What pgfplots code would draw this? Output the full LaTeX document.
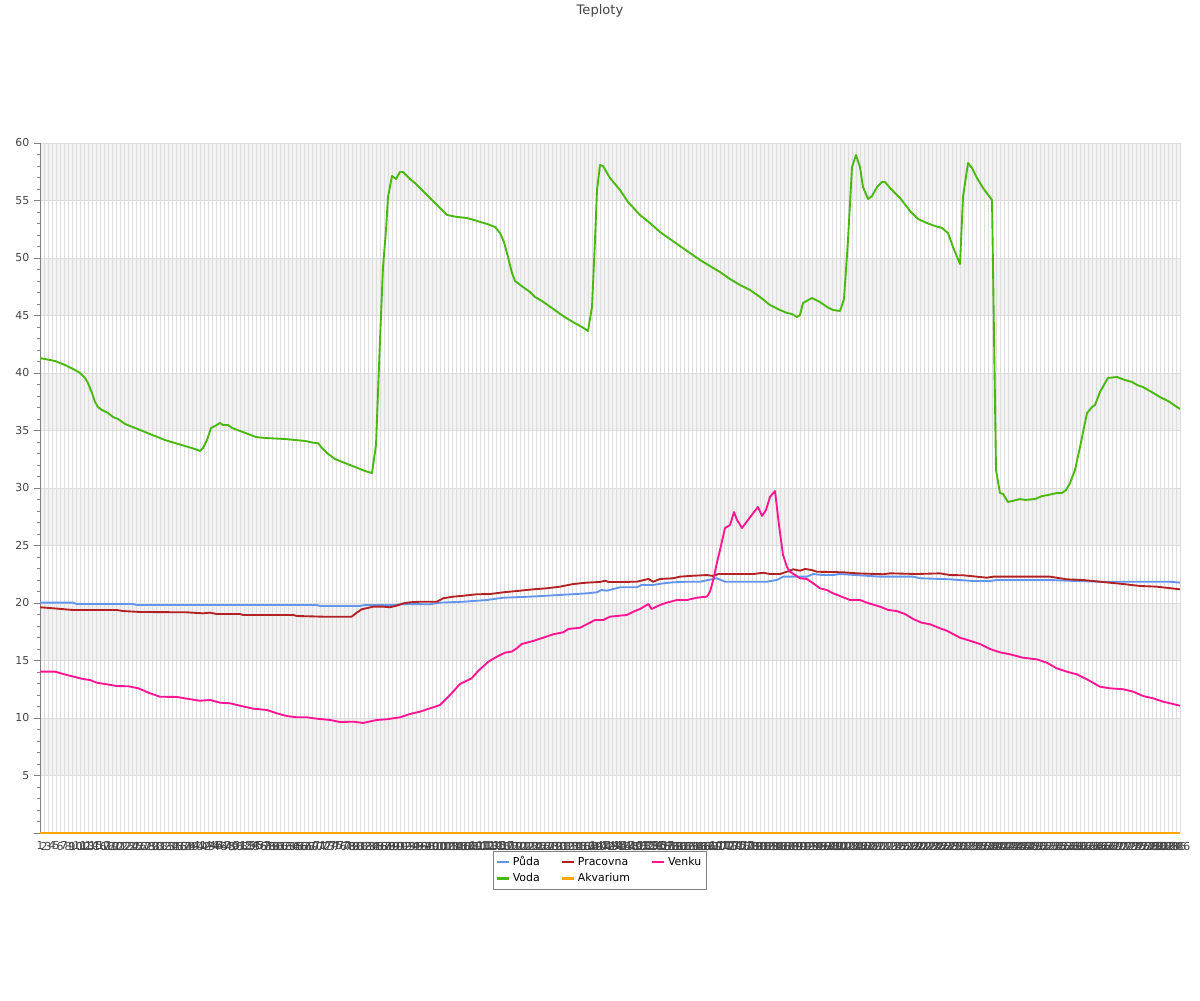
\documentclass[border=0pt]{standalone}
\usepackage{fontspec}
\setmainfont{DejaVu Sans}
\usepackage{pgfplots}
\pgfplotsset{compat=1.18}
\definecolor{puda}{RGB}{100,149,237}
\definecolor{pracovna}{RGB}{178,34,34}
\definecolor{venku}{RGB}{255,20,147}
\definecolor{voda}{RGB}{72,184,12}
\definecolor{akvarium}{RGB}{255,165,0}
\definecolor{band}{RGB}{242,242,242}
\definecolor{gridc}{RGB}{221,221,221}
\definecolor{txt}{RGB}{68,68,68}
\begin{document}
\begin{tikzpicture}
\begin{axis}[
  set layers,
  at={(0,0)}, anchor=south west,
  scale only axis,
  width=855pt, height=517.5pt,
  xmin=1, xmax=286, ymin=0, ymax=60,
  axis lines=left, axis line style={-, draw=gray},
  xtick={1,...,286},
  x tick label style={font=\fontsize{8.2}{9}\selectfont, text=txt, inner sep=1pt, yshift=-1pt},
  major x tick style={draw=none},
  ytick={0,5,10,15,20,25,30,35,40,45,50,55,60},
  yticklabels={{},5,10,15,20,25,30,35,40,45,50,55,60},
  y tick label style={font=\fontsize{8.2}{9}\selectfont, text=txt},
  minor y tick num=4,
  tick align=outside,
  major tick length=4.5pt, minor tick length=2.5pt,
  y tick style={draw=gray},
  /pgf/number format/assume math mode=true,
  grid=major,
  major grid style={draw=gridc, line width=0.6pt},
  legend columns=3,
  legend cell align=left,
  legend style={at={(0.4912,-0.026)}, anchor=north, draw=gray, line width=0.6pt,
     font=\fontsize{8.2}{10}\selectfont, text=black, inner sep=2pt,
     /tikz/every even column/.append style={column sep=14pt}},
  legend image code/.code={\draw[line width=1.6pt] (0pt,0pt) -- (9pt,0pt);},
  every axis plot/.append style={line width=1.4pt, line join=round},
]
\begin{pgfonlayer}{axis background}
\fill[band] (axis cs:1,5) rectangle (axis cs:286,10);
\fill[band] (axis cs:1,15) rectangle (axis cs:286,20);
\fill[band] (axis cs:1,25) rectangle (axis cs:286,30);
\fill[band] (axis cs:1,35) rectangle (axis cs:286,40);
\fill[band] (axis cs:1,45) rectangle (axis cs:286,50);
\fill[band] (axis cs:1,55) rectangle (axis cs:286,60);
\end{pgfonlayer}
% Puda
\addplot[puda] coordinates {(1,20.03)(9.3,20.03)(10.2,19.91)(24.3,19.91)(25.2,19.83)(70.2,19.83)(71,19.74)(81,19.74)(82.3,19.83)(89.3,19.83)(92.7,19.91)(98.5,19.89)(101,20.03)(106.8,20.11)(112.7,20.26)(116.8,20.46)(123.5,20.55)(131,20.70)(137.7,20.84)(140.2,20.93)(141.4,21.13)(142.7,21.07)(146,21.37)(150.2,21.37)(151.4,21.57)(154.3,21.57)(156.8,21.71)(159.3,21.80)(162.7,21.85)(166,21.85)(170.2,22.15)(172.3,21.85)(182.7,21.85)(185.2,22.0)(186.8,22.29)(192.7,22.29)(194.3,22.52)(196.8,22.43)(199.3,22.43)(201,22.52)(211,22.29)(219.3,22.29)(221,22.15)(228.5,22.06)(234.3,21.91)(238.5,21.91)(240.2,22.0)(253.5,22.0)(257.7,21.94)(266,21.85)(283.5,21.85)(286,21.77)};
\addlegendentry{Půda}
% Pracovna
\addplot[pracovna] coordinates {(1,19.63)(4.3,19.54)(9.3,19.39)(20.2,19.39)(21.8,19.30)(26,19.22)(37.7,19.19)(41.8,19.10)(43.5,19.16)(45.2,19.04)(51,19.04)(51.8,18.96)(64.3,18.96)(65.2,18.87)(71.8,18.81)(78.9,18.81)(80.2,19.16)(81.4,19.45)(84.3,19.68)(86.8,19.68)(88.5,19.63)(90.2,19.77)(91.8,19.97)(93.5,20.06)(96,20.11)(100.2,20.11)(101.8,20.41)(104.3,20.55)(106.8,20.63)(110.2,20.76)(113.5,20.78)(116.8,20.93)(121,21.07)(124.3,21.19)(127.7,21.28)(131,21.42)(134.3,21.65)(137.7,21.77)(141,21.83)(142.3,21.94)(143.1,21.83)(146,21.83)(150.2,21.85)(153.1,22.09)(154.3,21.85)(156,22.09)(159.3,22.15)(161,22.29)(164.3,22.37)(167.7,22.43)(169.3,22.35)(170.6,22.52)(179.3,22.52)(181.8,22.63)(183.5,22.52)(186,22.52)(187.7,22.72)(189.3,22.93)(191,22.81)(192.3,22.96)(193.9,22.87)(195.2,22.72)(201.8,22.67)(205.2,22.58)(211.8,22.50)(213.5,22.58)(220.2,22.52)(226,22.58)(228.5,22.43)(231.8,22.41)(235.2,22.29)(237.7,22.20)(239.3,22.29)(253.5,22.29)(257.7,22.06)(261.8,22.0)(266,21.85)(271.8,21.65)(276,21.48)(280.2,21.42)(286,21.19)};
\addlegendentry{Pracovna}
% Venku
\addplot[venku] coordinates {(1,14.03)(4.75,14.03)(7.7,13.74)(11.8,13.39)(13.5,13.30)(15.2,13.07)(17.7,12.93)(20.2,12.78)(23.1,12.76)(25.6,12.58)(28.5,12.15)(31,11.85)(35.2,11.83)(37.7,11.68)(41,11.50)(43.5,11.57)(46,11.33)(48.5,11.28)(51,11.07)(54.3,10.81)(57.7,10.70)(60.2,10.41)(62.7,10.17)(65.2,10.06)(67.7,10.06)(70.2,9.94)(73.5,9.83)(76,9.65)(79.3,9.68)(81.8,9.57)(85.2,9.83)(87.7,9.89)(91,10.06)(93.5,10.35)(96,10.55)(98.5,10.84)(101,11.13)(103.5,12.0)(106,12.96)(108.9,13.45)(110.6,14.11)(113.1,14.90)(115.2,15.33)(117.25,15.68)(118.9,15.77)(120.2,16.06)(121.4,16.43)(124.3,16.70)(126.8,16.98)(129.3,17.28)(131.8,17.45)(133.1,17.74)(136,17.85)(137.7,18.15)(139.75,18.52)(141.8,18.52)(143.5,18.81)(147.7,18.96)(149.3,19.24)(151,19.48)(153.1,19.91)(153.9,19.48)(156,19.83)(157.7,20.03)(160.2,20.26)(162.7,20.26)(165.2,20.46)(167.7,20.55)(168.5,20.98)(169.3,22.0)(170.2,23.45)(171,24.61)(172.25,26.52)(173.5,26.78)(174.5,27.91)(175.25,27.22)(176.5,26.52)(178,27.22)(179.5,27.91)(180.5,28.35)(181.5,27.57)(182.5,28.09)(183.5,29.22)(184.75,29.74)(185.75,26.78)(186.75,24.17)(187.75,23.13)(188.5,22.72)(191,22.15)(192.7,22.09)(194.3,21.71)(196,21.28)(197.7,21.13)(199.3,20.84)(201.4,20.55)(203.5,20.26)(206,20.26)(207.7,20.03)(211,19.68)(213.1,19.39)(215.2,19.30)(217.25,19.04)(219.3,18.61)(221.4,18.29)(223.5,18.15)(226,17.80)(227.7,17.59)(231,16.98)(233.5,16.72)(236,16.43)(238.5,16.0)(241,15.71)(243.5,15.54)(246.8,15.24)(250.2,15.10)(252.7,14.81)(255.2,14.32)(257.7,14.03)(260.2,13.80)(262.7,13.37)(266,12.72)(268.5,12.58)(271.8,12.50)(274.3,12.29)(276.8,11.91)(279.3,11.71)(281.8,11.42)(286,11.07)};
\addlegendentry{Venku}
% Voda
\addplot[voda] coordinates {(1,41.30)(4.75,41.04)(7.25,40.70)(9.75,40.26)(11,40.0)(12.25,39.57)(13,39.13)(14,38.26)(14.75,37.48)(15.5,37.04)(16.5,36.78)(18,36.52)(19.25,36.17)(20.5,36.0)(22.25,35.57)(24.75,35.22)(27.25,34.87)(29.75,34.52)(32.25,34.17)(34.75,33.91)(37.25,33.65)(39.75,33.39)(41,33.22)(41.75,33.48)(42.75,34.17)(43.75,35.22)(44.75,35.39)(46,35.65)(46.75,35.48)(48,35.48)(49,35.22)(51,34.96)(53,34.70)(55,34.43)(57.25,34.35)(62.25,34.26)(67.25,34.09)(69.75,33.91)(70.5,33.91)(71.5,33.48)(72.75,33.04)(74.75,32.52)(77.25,32.17)(79.75,31.83)(82.25,31.48)(84,31.30)(85,33.74)(86,42.87)(86.75,49.22)(87.5,52.43)(88,55.30)(89,57.13)(90,56.87)(91,57.48)(91.75,57.48)(93.5,56.87)(94.75,56.52)(96.5,55.91)(98.5,55.22)(101,54.35)(101.75,54.09)(102.75,53.74)(105.25,53.57)(107.75,53.48)(110.25,53.22)(112.75,52.96)(114.75,52.70)(116,52.17)(117,51.39)(118,50.09)(119,48.70)(119.75,48.0)(121.75,47.48)(123.5,47.04)(124.75,46.61)(126.5,46.26)(129,45.65)(131.75,44.96)(134.25,44.43)(136.5,44.0)(138,43.65)(139,45.74)(139.75,51.57)(140.25,55.91)(141,58.09)(141.75,58.0)(143.5,56.96)(146,55.91)(148,54.87)(151,53.74)(153.5,53.04)(156,52.26)(158.5,51.65)(161,51.04)(163.5,50.43)(166,49.83)(168.5,49.30)(171,48.78)(173.5,48.17)(176,47.65)(178.5,47.22)(181,46.61)(183.5,45.91)(186,45.48)(187.75,45.22)(189,45.13)(190.25,44.87)(191,45.04)(191.75,46.09)(194,46.52)(196,46.17)(197.75,45.74)(199.25,45.48)(201,45.39)(202,46.43)(203,51.57)(204,57.91)(205,58.96)(206,57.91)(206.75,56.17)(208,55.13)(209,55.39)(210.25,56.17)(211.5,56.61)(212.25,56.61)(213.5,56.09)(216,55.22)(218.5,54.09)(220.5,53.39)(222.75,53.04)(224.75,52.78)(226.5,52.61)(228,52.17)(229.25,50.96)(230.25,50.09)(231,49.48)(231.75,55.30)(233,58.26)(234,57.83)(235.25,56.96)(236.75,56.09)(239,55.04)(240,31.57)(241,29.57)(241.75,29.48)(243,28.78)(246,29.04)(247.25,28.96)(249.75,29.04)(251.5,29.30)(253,29.39)(255.25,29.57)(256.5,29.57)(257.5,29.83)(258.5,30.43)(259.75,31.57)(261,33.57)(262.75,36.52)(264,37.04)(264.75,37.22)(266,38.35)(268,39.57)(270.25,39.65)(272.25,39.39)(274,39.22)(275.25,38.96)(276.75,38.78)(278.5,38.43)(281,37.91)(283,37.57)(286,36.87)};
\addlegendentry{Voda}
% Akvarium
\addplot[akvarium] coordinates {(1,0)(286,0)};
\addlegendentry{Akvarium}
\end{axis}
\node[font=\fontsize{9.8}{11}\selectfont, text=txt] at (420pt,616.5pt) {Teploty};
\pgfresetboundingbox
\path[use as bounding box] (-30pt,-125.25pt) rectangle (870pt,624.75pt);
\end{tikzpicture}
\end{document}
